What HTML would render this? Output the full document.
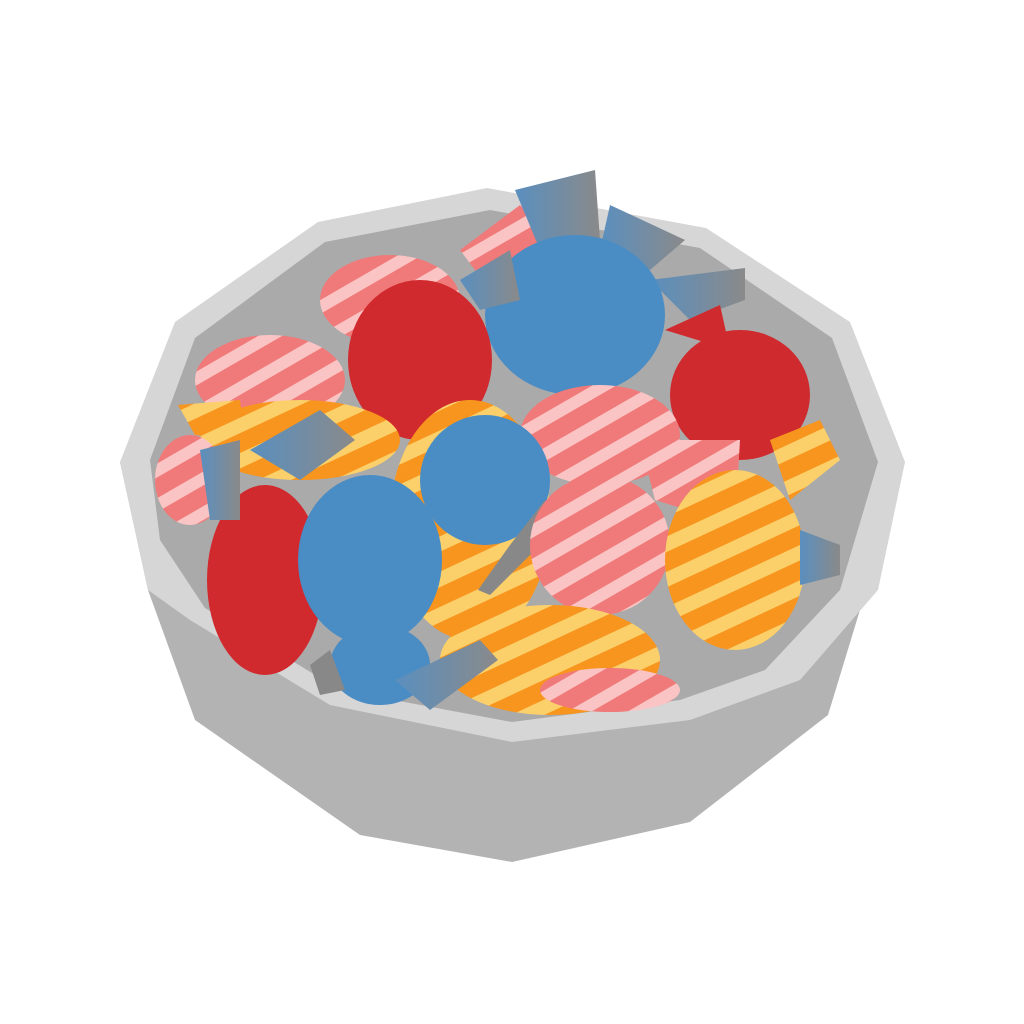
<!DOCTYPE html>
<html><head><meta charset="utf-8"><style>
html,body{margin:0;padding:0;background:#fff;width:1024px;height:1024px;overflow:hidden}
</style></head><body>
<svg width="1024" height="1024" viewBox="0 0 1024 1024" xmlns="http://www.w3.org/2000/svg">
<defs>
<pattern id="pink" patternUnits="userSpaceOnUse" width="30" height="30" patternTransform="rotate(-30)">
<rect width="30" height="30" fill="#f07a7a"/><rect width="30" height="12" fill="#fbc4c4"/></pattern>
<pattern id="orange" patternUnits="userSpaceOnUse" width="32" height="32" patternTransform="rotate(-25)">
<rect width="32" height="32" fill="#f7951e"/><rect width="32" height="14" fill="#fbd06a"/></pattern>
<linearGradient id="wrap" x1="0" x2="1"><stop offset="0" stop-color="#5a8fbf"/><stop offset="1" stop-color="#8a8a8a"/></linearGradient>
</defs>
<polygon fill="#b3b3b3" points="120,462 148,590 195,720 360,835 512,862 690,822 828,715 905,462"/>
<polygon fill="#d6d6d6" points="120,462 175,322 318,222 487,188 706,228 850,322 905,462 878,590 800,680 690,720 512,742 330,705 190,620 148,590"/>
<polygon fill="#aaaaaa" points="150,460 195,338 325,242 490,210 700,248 832,338 878,462 840,590 765,670 680,700 512,722 340,690 205,608 160,540"/>
<g>
<ellipse cx="270" cy="380" rx="75" ry="45" fill="url(#pink)"/>
<ellipse cx="390" cy="300" rx="70" ry="45" fill="url(#pink)"/>
<polygon points="460,250 520,205 555,240 490,290" fill="url(#pink)"/>
<polygon points="515,190 595,170 600,240 540,250" fill="url(#wrap)"/>
<polygon points="610,205 685,240 650,270 600,250" fill="url(#wrap)"/>
<polygon points="650,280 745,268 745,300 690,320" fill="url(#wrap)"/>
<ellipse cx="575" cy="315" rx="90" ry="80" fill="#4a8cc4"/>
<ellipse cx="420" cy="360" rx="72" ry="80" fill="#d12a2e"/>
<polygon points="460,280 510,250 520,300 480,310" fill="url(#wrap)"/>
<ellipse cx="740" cy="395" rx="70" ry="65" fill="#cf2a2e"/>
<polygon points="665,330 720,305 730,350" fill="#cf2a2e"/>
<ellipse cx="300" cy="440" rx="100" ry="40" fill="url(#orange)"/>
<polygon points="178,405 240,400 245,440 195,435" fill="url(#orange)"/>
<ellipse cx="470" cy="520" rx="80" ry="120" fill="url(#orange)"/>
<ellipse cx="600" cy="435" rx="80" ry="50" fill="url(#pink)"/>
<polygon points="640,440 740,440 735,525 655,500" fill="url(#pink)"/>
<ellipse cx="485" cy="480" rx="65" ry="65" fill="#4a8cc4"/>
<polygon points="478,590 510,545 545,500 545,540 490,595" fill="#888"/>
<ellipse cx="600" cy="545" rx="70" ry="70" fill="url(#pink)"/>
<ellipse cx="190" cy="480" rx="35" ry="45" fill="url(#pink)"/>
<polygon points="250,450 320,410 355,440 300,480" fill="url(#wrap)"/>
<ellipse cx="265" cy="580" rx="58" ry="95" fill="#d12a2e"/>
<polygon points="200,450 240,440 240,520 210,520" fill="url(#wrap)"/>
<ellipse cx="735" cy="560" rx="70" ry="90" fill="url(#orange)"/>
<polygon points="770,440 820,420 840,460 790,500" fill="url(#orange)"/>
<polygon points="800,530 840,545 840,575 800,585" fill="url(#wrap)"/>
<ellipse cx="550" cy="660" rx="110" ry="55" fill="url(#orange)"/>
<ellipse cx="610" cy="690" rx="70" ry="22" fill="url(#pink)"/>
<ellipse cx="370" cy="560" rx="72" ry="85" fill="#4a8cc4"/>
<ellipse cx="380" cy="665" rx="50" ry="40" fill="#4a8cc4"/>
<polygon points="395,680 480,640 498,660 430,710" fill="url(#wrap)"/>
<polygon points="310,665 330,650 345,690 320,695" fill="#888"/>
</g>
</svg>
</body></html>
